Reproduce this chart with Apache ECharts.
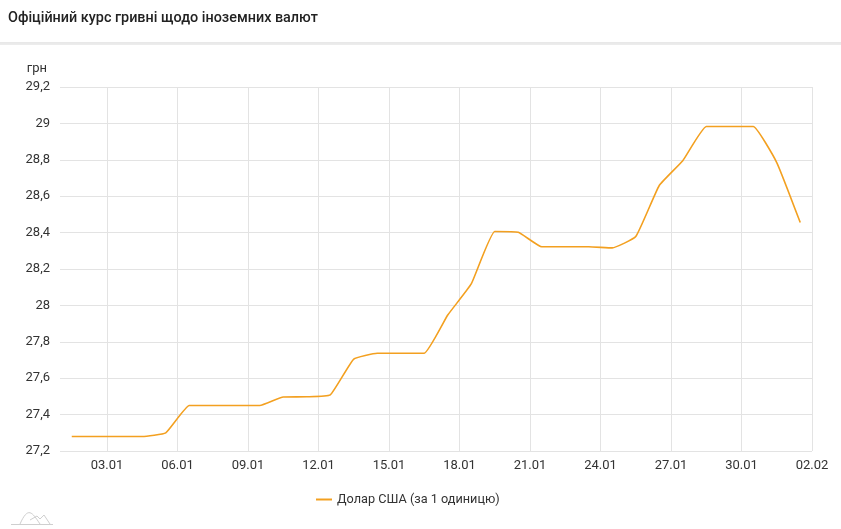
<!DOCTYPE html>
<html>
<head>
<meta charset="utf-8">
<script src="https://cdn.jsdelivr.net/npm/echarts@6/dist/echarts.min.js"></script>
<style>
  html, body { margin: 0; padding: 0; background: #fff; }
  #chart { width: 841px; height: 529px; }
</style>
</head>
<body>
<div id="chart"></div>
<script>
// Dates of the data points (one per day, plotted at mid-day)
const pointDates = ['01.01','02.01','03.01','04.01','05.01','06.01','07.01','08.01','09.01','10.01',
  '11.01','12.01','13.01','14.01','15.01','16.01','17.01','18.01','19.01','20.01',
  '21.01','22.01','23.01','24.01','25.01','26.01','27.01','28.01','29.01','30.01',
  '31.01','01.02'];
// USD rate, UAH per 1 unit
const usdValues = [27.28, 27.28, 27.28, 27.28, 27.30, 27.45, 27.45, 27.45, 27.45, 27.497,
  27.498, 27.508, 27.705, 27.737, 27.737, 27.737, 27.947, 28.118, 28.406, 28.402,
  28.322, 28.322, 28.322, 28.316, 28.378, 28.659, 28.795, 28.983, 28.983, 28.983,
  28.785, 28.455];
// X axis tick labels (day offset from 01.01 -> label)
const xTickDays = [2, 5, 8, 11, 14, 17, 20, 23, 26, 29, 32];
const xTickLabels = ['03.01','06.01','09.01','12.01','15.01','18.01','21.01','24.01','27.01','30.01','02.02'];
const seriesName = 'Долар США (за 1 одиницю)';
const titleText = 'Офіційний курс гривні щодо іноземних валют';
const yName = 'грн';

const chart = echarts.init(document.getElementById('chart'), null, { renderer: 'canvas' });
const gridColor = '#e3e3e3';
const font = 'Roboto, "Noto Sans", sans-serif';

const option = {
  backgroundColor: '#ffffff',
  textStyle: { fontFamily: font },
  animation: false,
  title: {
    text: titleText,
    left: 8,
    top: 11,
    padding: 0,
    textStyle: { fontSize: 14.4, fontWeight: 500, color: '#222', fontFamily: font }
  },
  graphic: [
    { type: 'rect', shape: { x: 0, y: 42.5, width: 841, height: 1 }, style: { fill: '#d2d2d2' }, silent: true },
    { type: 'rect', shape: { x: 0, y: 43.5, width: 841, height: 1.5 }, style: { fill: '#ececec' }, silent: true },
    {
      type: 'group', silent: true,
      children: [
        { type: 'line', shape: { x1: 11, y1: 524.5, x2: 53, y2: 524.5 }, style: { stroke: '#cfcfcf', lineWidth: 1 } },
        { type: 'bezierCurve', shape: { x1: 20, y1: 524, cpx1: 28, cpy1: 506, x2: 40, y2: 524, cpx2: 32, cpy2: 512 }, style: { stroke: '#cfcfcf', lineWidth: 1, fill: null } },
        { type: 'polyline', shape: { points: [[30, 520], [37, 516], [40, 519], [44, 515], [50, 524]] }, style: { stroke: '#cfcfcf', lineWidth: 1, fill: null } }
      ]
    }
  ],
  legend: {
    left: 316,
    top: 493,
    padding: 0,
    icon: 'rect',
    itemWidth: 16,
    itemHeight: 2,
    itemGap: 10,
    textStyle: { fontSize: 12.7, color: '#333', fontFamily: font },
    data: [seriesName]
  },
  grid: { left: 60, right: 29, top: 87, bottom: 78, containLabel: false },
  xAxis: {
    type: 'value',
    min: 0,
    max: 32,
    interval: 1,
    axisLine: { show: false },
    axisTick: { show: false },
    axisLabel: {
      fontSize: 13,
      color: '#333',
      margin: 8,
      formatter: function (v) {
        const k = xTickDays.indexOf(Math.round(v));
        return k >= 0 ? xTickLabels[k] : '';
      }
    },
    splitLine: {
      show: true,
      lineStyle: { color: ['rgba(0,0,0,0)', 'rgba(0,0,0,0)', gridColor], width: 1 }
    }
  },
  yAxis: {
    type: 'value',
    min: 27.2,
    max: 29.2,
    interval: 0.2,
    name: yName,
    nameLocation: 'end',
    nameGap: 12,
    nameTextStyle: { fontSize: 13, color: '#333', align: 'right', padding: [0, 13, 0, 0] },
    axisLine: { show: false },
    axisTick: { show: false },
    axisLabel: {
      fontSize: 13,
      color: '#333',
      margin: 10,
      formatter: function (v) { return String(+v.toFixed(1)).replace('.', ','); }
    },
    splitLine: { show: true, lineStyle: { color: gridColor, width: 1 } }
  },
  series: [{
    name: seriesName,
    type: 'line',
    data: usdValues.map(function (v, i) { return [i + 0.5, v]; }),
    showSymbol: false,
    symbol: 'none',
    smooth: 0.12,
    lineStyle: { color: '#f3a020', width: 1.6 },
    itemStyle: { color: '#f3a020' }
  }]
};
chart.setOption(option);
</script>
</body>
</html>
